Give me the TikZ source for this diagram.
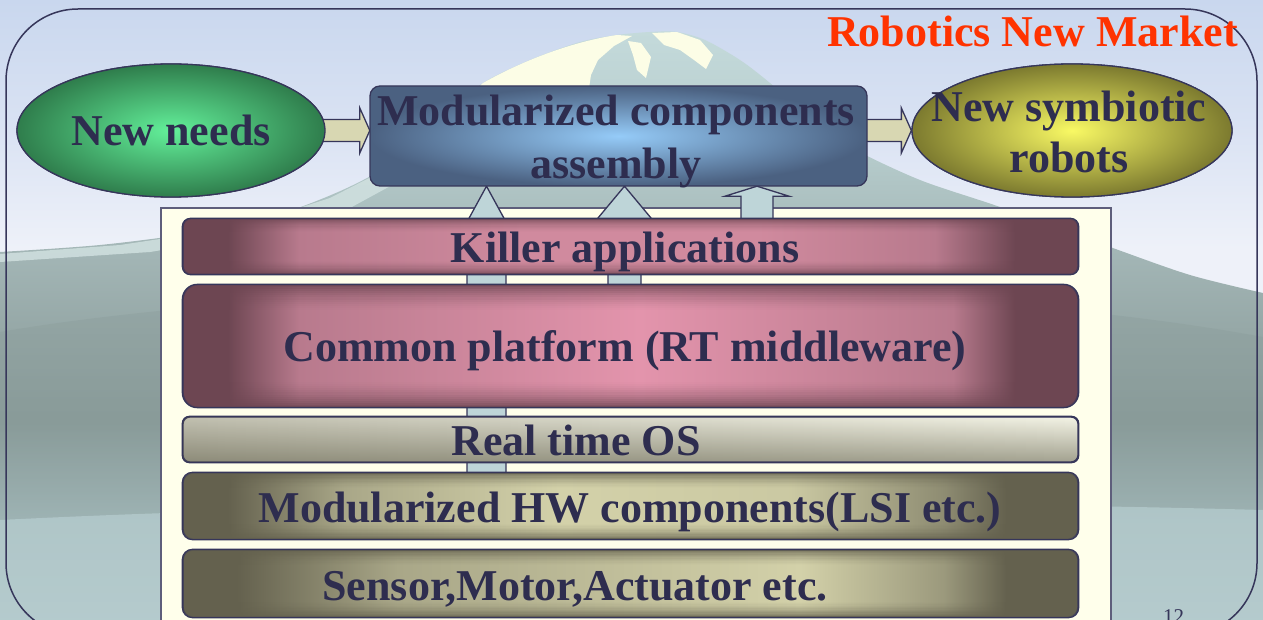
\documentclass[tikz,border=0pt]{standalone}
\usepackage{fontspec}
\setmainfont{Liberation Serif}
\usetikzlibrary{shapes.geometric,calc,fadings}

% palette
\definecolor{txtc}{HTML}{2E2D4F}
\definecolor{linec}{HTML}{36365A}
\definecolor{redc}{HTML}{FF3300}
\definecolor{skyt}{HTML}{C9D7EE}
\definecolor{skym}{HTML}{D9E2F3}
\definecolor{skyb}{HTML}{EEF1F9}
\definecolor{mtA}{HTML}{C4DADB}
\definecolor{mtB}{HTML}{B6CCCC}
\definecolor{mtC}{HTML}{A3B6B6}
\definecolor{mtD}{HTML}{96A8A7}
\definecolor{mtE}{HTML}{899B99}
\definecolor{mtF}{HTML}{A9C0C2}
\definecolor{mtG}{HTML}{BCD3D6}
\definecolor{snow}{HTML}{FCFDE6}
\definecolor{streak}{HTML}{D3E3E2}
\definecolor{panelc}{HTML}{FFFFEB}
\definecolor{harrowc}{HTML}{D8D7B2}
\definecolor{uarrowc}{HTML}{BED5D8}
\definecolor{grnl}{HTML}{63F09A}
\definecolor{grnd}{HTML}{2F7D4C}
\definecolor{yell}{HTML}{F9F964}
\definecolor{yeld}{HTML}{7C7A2F}
\definecolor{boxl}{HTML}{95CBF8}
\definecolor{boxd}{HTML}{4B6181}
\definecolor{pkd}{HTML}{6D4652}
\definecolor{pka}{HTML}{B87A8D}
\definecolor{pkb}{HTML}{D08A9E}
\definecolor{pkl}{HTML}{E394AC}
\definecolor{olvd}{HTML}{64614E}
\definecolor{olva}{HTML}{A9A788}
\definecolor{olvb}{HTML}{8E8C72}
\definecolor{olvl}{HTML}{D3D1A9}
\definecolor{ostop}{HTML}{F3F3E5}
\definecolor{osbot}{HTML}{A3A290}

% sky and mountain gradients
\pgfdeclareverticalshading{skyshade}{100bp}{color(0bp)=(skyb); color(25bp)=(skyb); color(55bp)=(skyb); color(65bp)=(skym); color(75bp)=(skyt); color(100bp)=(skyt)}
\pgfdeclareverticalshading{mtnshade}{100bp}{color(0bp)=(mtG); color(25bp)=(mtG); color(33.5bp)=(mtF); color(41.9bp)=(mtE); color(49.6bp)=(mtD); color(56.4bp)=(mtC); color(64.8bp)=(mtB); color(75bp)=(mtA); color(100bp)=(mtA)}

% layer bars: light band across the middle, dark ends
\pgfdeclarehorizontalshading{pinkK}{100bp}{color(0bp)=(pkd); color(25bp)=(pkd); color(27.5bp)=(pkd); color(31.5bp)=(pka); color(44bp)=(pkb); color(57bp)=(pkb); color(67bp)=(pka); color(71.5bp)=(pkd); color(75bp)=(pkd); color(100bp)=(pkd)}
\pgfdeclarehorizontalshading{pinkC}{100bp}{color(0bp)=(pkd); color(25bp)=(pkd); color(27.5bp)=(pkd); color(31.5bp)=(pka); color(50.5bp)=(pkl); color(68bp)=(pka); color(71.5bp)=(pkd); color(75bp)=(pkd); color(100bp)=(pkd)}
\pgfdeclarehorizontalshading{oliveH}{100bp}{color(0bp)=(olvd); color(25bp)=(olvd); color(27.5bp)=(olvd); color(34bp)=(olva); color(46bp)=(olvl); color(59bp)=(olvl!80!olva); color(67.5bp)=(olvb); color(71bp)=(olvd); color(75bp)=(olvd); color(100bp)=(olvd)}
\pgfdeclarehorizontalshading{oliveS}{100bp}{color(0bp)=(olvd); color(25bp)=(olvd); color(28bp)=(olvd); color(37bp)=(olva); color(59.5bp)=(olvl); color(67.5bp)=(olva!80!olvd); color(71bp)=(olvd); color(75bp)=(olvd); color(100bp)=(olvd)}
\tikzfading[name=leftdark, left color=transparent!0, right color=transparent!100]

\tikzset{
  txt/.style={font=\fontsize{44}{53}\selectfont\bfseries, text=txtc, inner sep=0pt},
  outline/.style={draw=linec, line width=1.3pt},
  bar/.style={outline, rectangle, minimum width=895pt, inner sep=0pt},
  shadedbar/.style={bar, shade, shading=#1},
  harrow/.style={outline, fill=harrowc},
  uarrow/.style={outline, fill=uarrowc},
}

% horizontal block arrow from a tail point to a tip point
\newcommand\hblock[2]{%
  \draw[harrow] ($#1+(-4,-11)$) -- ($#2+(-10,-11)$) -- ($#2+(-10,-22.5)$) -- #2
    -- ($#2+(-10,22.5)$) -- ($#2+(-10,11)$) -- ($#1+(-4,11)$) -- cycle;}
% upward block arrow: x, bottom anchor, top anchor, shaft half width, head half width, head length
\newcommand\vblock[6]{%
  \path (#1,0) coordinate (vbx);
  \path (vbx |- #2) coordinate (vbb) (vbx |- #3) coordinate (vbt);
  \draw[uarrow] ($(vbb)+(-#4,0)$) -- ($(vbt)+(-#4,#6)$) -- ($(vbt)+(-#5,#6)$) -- (vbt)
    -- ($(vbt)+(#5,#6)$) -- ($(vbt)+(#4,#6)$) -- ($(vbb)+(#4,0)$) -- cycle;}
% darker rims along the top and bottom of a bar: node, colour, depth, opacity, corner radius
\newcommand\rim[5]{%
  \begin{scope}
    \clip[rounded corners=#5] (#1.south west) rectangle (#1.north east);
    \foreach \k [evaluate=\k as \op using {#4*(1-\k/12)^1.6}] in {0,...,11} {
      \fill[#2, opacity=\op] ($(#1.north west)+(0,\k*#3/12)$) rectangle ($(#1.north east)+(0,{(\k+1)*#3/12})$);
      \fill[#2, opacity=\op] ($(#1.south west)+(0,-\k*#3/12)$) rectangle ($(#1.south east)+(0,{-(\k+1)*#3/12})$);
    }
  \end{scope}
  \draw[outline, rounded corners=#5] (#1.south west) rectangle (#1.north east);}

\begin{document}
\begin{tikzpicture}[x=1pt, y=-1pt]
\useasboundingbox (0,0) rectangle (1263,620);
\clip (0,0) rectangle (1263,620);

% sky
\shade[shading=skyshade] (0,0) rectangle (1263,620);
% mountain
\shade[shading=mtnshade] (0,620) -- plot[smooth, tension=0.5] coordinates {(0,252) (100,245) (200,232) (280,214) (347,188) (400,158) (450,112) (483,83) (530,60) (580,42) (617,35) (650,32) (677,32) (705,40) (740,60) (770,83) (810,118) (850,147) (920,180) (1000,207) (1110,247) (1190,275) (1263,293)} -- (1263,620) -- cycle;
% lower ridges
\fill[mtE, opacity=0.35] (0,332) .. controls (300,280) and (900,270) .. (1263,337) -- (1263,620) -- (0,620) -- cycle;
\fill[mtG, opacity=0.6] (0,520) .. controls (400,500) and (900,500) .. (1263,510) -- (1263,620) -- (0,620) -- cycle;
% light streak on the left slope
\fill[streak, opacity=0.8] (0,254) -- (120,245) -- (240,227) -- (330,198) -- (385,170) -- (425,140) -- (405,178) -- (350,208) -- (260,234) -- (150,252) -- (0,262) -- cycle;
% snow cap
\fill[snow] (470,95) -- (483,83) .. controls (520,62) and (570,42) .. (617,35) -- (632,36) -- (614,46) -- (598,60) -- (591,75) -- (588,95) -- cycle;
\fill[snow] (628,41) -- (641,43) -- (651,57) -- (646,78) -- (637,70) -- (633,55) -- cycle;
\fill[snow] (652,33) -- (677,32) -- (700,40) -- (713,55) -- (706,69) -- (694,60) -- (680,50) -- (664,45) -- cycle;

% slide frame
\draw[linec, line width=1.5pt, rounded corners=72pt] (6,9) rectangle (1257,635);

% layer panel
\node[draw=linec!80, line width=1.5pt, fill=panelc, rectangle, minimum width=950pt, minimum height=432pt, inner sep=0pt] (panel) at (636,424) {};

% bar outlines placed first so the arrows can refer to them
\path node[rectangle, minimum width=895pt, minimum height=55pt, inner sep=0pt] (killer) at (630.5,246.5) {}
      node[rectangle, minimum width=895pt, minimum height=122pt, inner sep=0pt] (common) at (630.5,346) {}
      node[rectangle, minimum width=895pt, minimum height=66pt, inner sep=0pt] (hw) at (630.5,506) {}
      node[rectangle, minimum width=497pt, minimum height=100pt, inner sep=0pt] (asm) at (618.5,136) {};

% upward arrows into the assembly box
\vblock{486.5}{hw.north}{asm.south}{19.5}{24}{44}
\vblock{624.5}{common.center}{asm.south}{16.5}{30}{36}
\vblock{757}{killer.north}{asm.south}{16}{32}{10}

% layer bars
\node[shadedbar=pinkK, rounded corners=8pt, minimum height=55pt] (killerbar) at (killer.center) {};
\rim{killerbar}{pkd}{14}{0.75}{8pt}
\node[shadedbar=pinkC, rounded corners=15pt, minimum height=122pt] (commonbar) at (common.center) {};
\rim{commonbar}{pkd}{26}{0.8}{15pt}
\node[bar, rounded corners=7pt, minimum height=45pt, top color=ostop, bottom color=osbot] (rtos) at (630.5,439.5) {};
\fill[olvd, opacity=0.35, path fading=leftdark, rounded corners=7pt] (rtos.south west) rectangle (rtos.north east);
\draw[outline, rounded corners=7pt] (rtos.south west) rectangle (rtos.north east);
\node[shadedbar=oliveH, rounded corners=10pt, minimum height=66pt] (hwbar) at (hw.center) {};
\rim{hwbar}{olvd}{16}{0.8}{10pt}
\node[shadedbar=oliveS, rounded corners=10pt, minimum height=67pt] (sensor) at (630.5,583.5) {};
\rim{sensor}{olvd}{16}{0.8}{10pt}

\node[txt, anchor=base] (tkiller) at (625,262) {Killer applications};
\node[txt, anchor=base] (tcommon) at (625,361) {Common platform (RT middleware)};
\node[txt, anchor=base] (trtos) at (576,455) {Real time OS};
\node[txt, anchor=base] (thw) at (630,522) {Modularized HW components(LSI etc.)};
\node[txt, anchor=base] (tsensor) at (575,600) {Sensor,Motor,Actuator etc.};

% top row
\node[ellipse, outline, minimum width=308pt, minimum height=133pt, inner sep=0pt] (needs) at (171,130.5) {};
\node[ellipse, outline, minimum width=320pt, minimum height=133pt, inner sep=0pt] (sym) at (1072,130.5) {};
\hblock{(needs.east)}{(needs.east -| asm.west)}
\hblock{(sym.west -| asm.east)}{(sym.west)}
\node[ellipse, outline, minimum width=308pt, minimum height=133pt, inner sep=0pt, inner color=grnl, outer color=grnd, txt] (needsfill) at (needs.center) {New needs};
\node[ellipse, outline, minimum width=320pt, minimum height=133pt, inner sep=0pt, inner color=yell, outer color=yeld] (symfill) at (sym.center) {};
\node[txt, align=center] (tsym) at (1069,131.5) {New symbiotic\\[-2pt]robots};
\node[outline, rectangle, rounded corners=10pt, minimum width=497pt, minimum height=100pt, inner sep=0pt, inner color=boxl, outer color=boxd] (asmbox) at (asm.center) {};
\node[txt, align=center] (tasm) at (616,141) {Modularized components\\assembly};

% headline and page number
\node[font=\fontsize{44}{53}\selectfont\bfseries, text=redc, inner sep=0pt, anchor=base west] (market) at (827,47) {Robotics New Market};
\node[font=\fontsize{21}{21}\selectfont, text=linec, inner sep=0pt, anchor=base west] (pageno) at (1163,623) {12};
\end{tikzpicture}
\end{document}
